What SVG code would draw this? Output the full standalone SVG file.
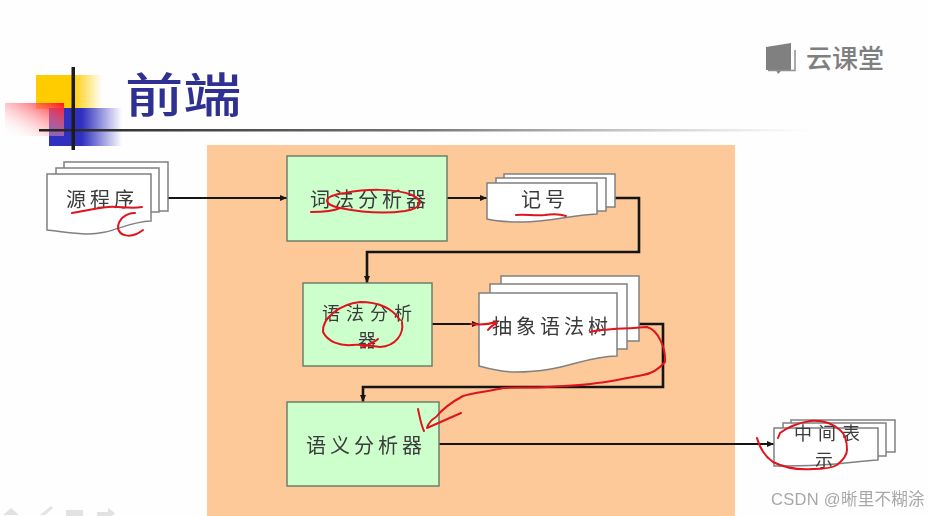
<svg xmlns="http://www.w3.org/2000/svg" width="929" height="516" viewBox="0 0 929 516">
<style>
.cjk{font-family:"Noto Sans CJK SC","Liberation Sans",sans-serif}
.lbl{font-family:"Noto Sans CJK SC",sans-serif;font-size:20px;letter-spacing:4px;fill:#3a3a3a;text-anchor:middle;filter:url(#soft)}
.two{font-size:18px;letter-spacing:6px}
.box{fill:#ccffcc;stroke:#6f7f6a;stroke-width:1.5}
.doc{fill:#fff;stroke:#808080;stroke-width:1.5}
.con{fill:none;stroke:#151515;stroke-width:2}
.thick{stroke-width:2.6}
.ink{fill:none;stroke:#e0141e;stroke-width:2;stroke-linecap:round;stroke-linejoin:round}
.nav{fill:#e2e2e2}
</style>
<defs>
<filter id="soft" x="-5%" y="-5%" width="110%" height="110%"><feGaussianBlur stdDeviation="0.4"/></filter>
<marker id="arr" markerWidth="8" markerHeight="8" refX="7" refY="3.5" orient="auto" markerUnits="userSpaceOnUse"><path d="M0 0.5L7 3.5L0 6.5z" fill="#151515"/></marker>
<linearGradient id="gy"><stop offset="0.55" stop-color="#ffcc00"/><stop offset="1" stop-color="#ffcc00" stop-opacity="0"/></linearGradient>
<linearGradient id="gb"><stop offset="0.45" stop-color="#3030c0"/><stop offset="1" stop-color="#3030c0" stop-opacity="0"/></linearGradient>
<linearGradient id="gr" x1="1" y1="0" x2="0" y2="1"><stop offset="0" stop-color="#ff1020"/><stop offset="0.95" stop-color="#ffffff" stop-opacity="0.1"/></linearGradient>
<linearGradient id="gl"><stop offset="0" stop-color="#222"/><stop offset="0.5" stop-color="#777"/><stop offset="1" stop-color="#999" stop-opacity="0"/></linearGradient>
</defs>
<rect width="929" height="516" fill="#fefefe"/>
<g id="title-decor">
<rect x="36" y="75" width="66" height="34" fill="url(#gy)"/>
<rect x="49" y="108" width="73" height="38" fill="url(#gb)"/>
<rect x="5" y="103" width="59" height="33" fill="url(#gr)"/>
<rect x="39" y="129" width="770" height="2.500" fill="url(#gl)"/>
<rect x="71.500" y="67" width="3.500" height="83" fill="#1c1c1c"/>
</g>
<text id="title" class="cjk" transform="translate(125 112) scale(1.24 1)" font-size="47" font-weight="500" fill="#2f3192">前端</text>
<g id="logo">
<path d="M766 47L791 43V70H782L778 74L776 70H766z" fill="#808080"/>
<path d="M768 70.500H795V50" fill="none" stroke="#909090" stroke-width="1.500"/>
<text class="cjk" x="806" y="68" font-size="26" font-weight="500" fill="#7f7f7f">云课堂</text>
</g>
<rect id="panel" x="207" y="145" width="528" height="371" fill="#fdc998"/>
<g id="connectors">
<path class="con" d="M168 198H287" marker-end="url(#arr)"/>
<path class="con" d="M447 198H487" marker-end="url(#arr)"/>
<path class="con thick" d="M615 198H639V252H367V283" marker-end="url(#arr)"/>
<path class="con" d="M432 324H479" marker-end="url(#arr)"/>
<path class="con thick" d="M639 324H663V387H363V402" marker-end="url(#arr)"/>
<path class="con" d="M439 444H774" marker-end="url(#arr)"/>
</g>
<g id="source-doc">
<rect class="doc" x="64" y="162" width="104" height="49"/>
<rect class="doc" x="56" y="168" width="103" height="44"/>
<path class="doc" d="M47 174H151V221C125 222 112 235 85 234C68 233 57 231 47 230z"/>
<text class="lbl" x="102" y="207">源程序</text>
</g>
<g id="lexer">
<rect class="box" x="287" y="156" width="160" height="85"/>
<text class="lbl" x="370" y="207">词法分析器</text>
</g>
<g id="token-doc">
<rect class="doc" x="504" y="174" width="111" height="33"/>
<rect class="doc" x="496" y="178" width="110" height="33"/>
<path class="doc" d="M487 183H597V214C570 215 550 222 522 222C505 222 495 221 487 219z"/>
<text class="lbl" x="545" y="207">记号</text>
</g>
<g id="parser">
<rect class="box" x="303" y="283" width="129" height="83"/>
<text class="lbl two"><tspan x="370" y="320">语法分析</tspan><tspan x="370" y="346.500">器</tspan></text>
</g>
<g id="ast-doc">
<rect class="doc" x="501" y="276" width="138" height="65"/>
<rect class="doc" x="490" y="284" width="137" height="65"/>
<path class="doc" d="M479 293H617V356C580 357 565 372 515 372C500 372 490 369 479 366z"/>
<text class="lbl" x="552" y="334">抽象语法树</text>
</g>
<g id="semantic">
<rect class="box" x="287" y="402" width="152" height="84"/>
<text class="lbl" x="366" y="453">语义分析器</text>
</g>
<g id="ir-doc">
<rect class="doc" x="791" y="420" width="104" height="32"/>
<rect class="doc" x="783" y="423" width="103" height="33"/>
<path class="doc" d="M774 428H878V460C860 461 845 464 820 465C800 466 785 466 774 466z"/>
<text class="lbl two"><tspan x="830" y="440">中间表</tspan><tspan x="827" y="466.500">示</tspan></text>
</g>
<g id="annotations">
<path class="ink" d="M72 213C85 211 95 208 108 207C118 206 130 209 142 207"/>
<path class="ink" d="M135 213C125 213 118 220 118 228C119 235 130 240 143 230"/>
<path class="ink" d="M311 212C322 212 334 211 340 208"/>
<path class="ink" d="M340 208C322 204 322 196 345 193C365 189 395 188 412 195C424 201 422 208 405 211C385 214 360 212 340 208"/>
<path class="ink" d="M516 215C525 214 535 216 545 215C552 214 560 214 566 216"/>
<path class="ink" d="M400 320C392 308 378 302 360 302C340 304 322 318 323 332C328 342 340 346 352 345C362 344 370 346 380 347C396 346 404 334 402 322"/>
<path class="ink" d="M363 347C370 344 375 342 378 339"/>
<path class="ink" d="M471 324C480 325 490 324 496 322M488 330C490 327 493 325 497 323"/>
<path class="ink" d="M590 332C600 329 625 329 647 327C658 330 666 348 665 362C658 370 650 374 643 375C625 378 612 382 597 383C580 386 560 386 547 387C530 388 515 387 503 388C490 391 472 393 463 396C450 403 440 412 436 417C431 420 428 424 427 428L461 413"/>
<path class="ink" d="M418 409C420 418 421 425 424 431"/>
<path class="ink" d="M757 438C760 449 766 457 773 462C785 468 800 470 813 469C822 469 832 468 837 465C843 460 847 455 847 450C847 440 845 434 840 430C832 423 822 420 810 421C798 423 788 427 780 433L778 438"/>
</g>
<g id="slide-nav">
<path class="nav" d="M3 515L11 508L19 515z"/>
<path class="nav" d="M40 515L51 506L53 508L45 515z"/>
<rect class="nav" x="66" y="510" width="17" height="6"/>
<path class="nav" d="M97 512H108V508L115 513L112 516H97z"/>
</g>
<text id="watermark" x="771" y="505" font-family="'Liberation Sans','Noto Sans CJK SC',sans-serif" font-size="16.500" letter-spacing="0.300" fill="#a8a8a8" filter="url(#soft)">CSDN @<tspan class="cjk">晰里不糊涂</tspan></text>
</svg>
